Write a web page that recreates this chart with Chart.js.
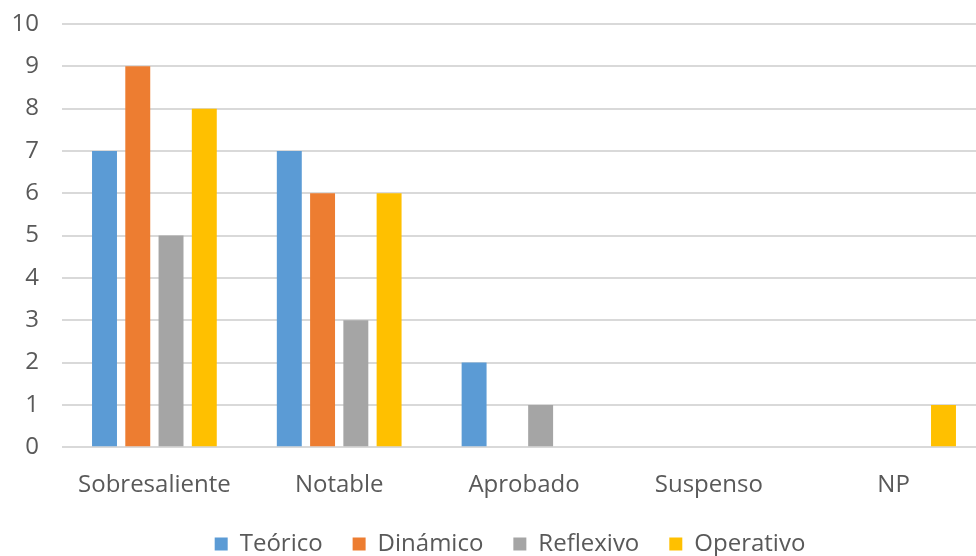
<!DOCTYPE html>
<html>
<head>
<meta charset="utf-8">
<script src="https://cdn.jsdelivr.net/npm/chart.js@4.4.0/dist/chart.umd.min.js"></script>
<style>
  html, body { margin: 0; padding: 0; background: #fff; overflow: hidden; }
  #wrap { position: absolute; left: 0; top: 0; width: 990px; height: 566px; }
</style>
</head>
<body>
<div id="wrap"><canvas id="chart"></canvas></div>
<script>
  const categories = ['Sobresaliente', 'Notable', 'Aprobado', 'Suspenso', 'NP'];
  const teorico = [7, 7, 2, 0, 0];
  const dinamico = [9, 6, 0, 0, 0];
  const reflexivo = [5, 3, 1, 0, 0];
  const operativo = [8, 6, 0, 0, 1];
  const seriesNames = ['Teórico', 'Dinámico', 'Reflexivo', 'Operativo'];
  const seriesColors = ['#5B9BD5', '#ED7D31', '#A5A5A5', '#FFC000'];

  const fontFamily = '"Open Sans", Lato, sans-serif';
  const textColor = '#595959';

  const datasets = [teorico, dinamico, reflexivo, operativo].map((values, i) => ({
    label: seriesNames[i],
    data: values,
    backgroundColor: seriesColors[i],
    borderWidth: 0,
    categoryPercentage: 0.72,
    barPercentage: 0.75,
  }));

  // nudge the legend a little to the right, as in the original
  const legendShift = {
    id: 'legendShift',
    afterLayout(chart) {
      if (!chart.legend) return;
      chart.legend.left += 14;
      chart.legend.right += 14;
    },
  };

  new Chart(document.getElementById('chart'), {
    type: 'bar',
    data: { labels: categories, datasets },
    plugins: [legendShift],
    options: {
      responsive: true,
      maintainAspectRatio: false,
      animation: false,
      layout: { padding: { top: 24, left: 6, right: 4, bottom: 0 } },
      plugins: {
        tooltip: { enabled: false },
        legend: {
          position: 'bottom',
          labels: {
            boxWidth: 13,
            boxHeight: 13,
            padding: 30,
            color: textColor,
            font: { family: fontFamily, size: 24 },
          },
        },
      },
      scales: {
        x: {
          grid: { display: false },
          border: { display: false },
          ticks: {
            color: textColor,
            padding: 16,
            font: { family: fontFamily, size: 24 },
          },
          // pull the legend closer to the category labels
          afterFit: (scale) => { scale.height -= 14; },
        },
        y: {
          min: 0,
          max: 10,
          border: { display: false },
          grid: { color: '#d9d9d9', lineWidth: 2, drawTicks: false },
          ticks: {
            stepSize: 1,
            color: textColor,
            padding: 23,
            font: { family: fontFamily, size: 24 },
          },
          afterFit: (scale) => {
            scale.width = 56;
            scale.paddingTop = 0;
            scale.paddingBottom = 0;
          },
        },
      },
    },
  });
</script>
</body>
</html>
